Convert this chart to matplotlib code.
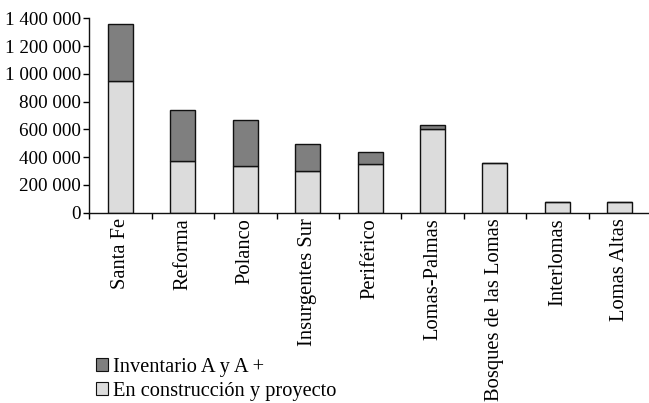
import matplotlib
matplotlib.use("Agg")
import matplotlib.pyplot as plt
from matplotlib.patches import Patch
from matplotlib.ticker import FixedLocator

categories = ["Santa Fe", "Reforma", "Polanco", "Insurgentes Sur", "Periférico",
              "Lomas-Palmas", "Bosques de las Lomas", "Interlomas", "Lomas Altas"]
construccion = [945000, 374000, 336000, 300000, 348000, 603000, 358000, 77000, 77000]
inventario = [413000, 363000, 332000, 193000, 87000, 31000, 0, 0, 0]
yticks = [0, 200000, 400000, 600000, 800000, 1000000, 1200000, 1400000]
ytick_labels = ["0", "200 000", "400 000", "600 000", "800 000",
                "1 000 000", "1 200 000", "1 400 000"]
legend_labels = ["Inventario A y A +", "En construcción y proyecto"]

plt.rcParams['font.family'] = ['Liberation Serif', 'DejaVu Serif']
FS_Y = 13.8
FS_X = 14.8
FS_L = 14.7

W, H = 649, 403
fig = plt.figure(figsize=(W / 100, H / 100), dpi=100)
left_px, right_px = 89.3, 89.3 + 9 * 62.4
bot_px, top_px = 212.7, 18.3
ax = fig.add_axes([left_px / W, (H - bot_px) / H,
                   (right_px - left_px) / W, (bot_px - top_px) / H])

light = "#dcdcdc"
dark = "#7f7f7f"
x = list(range(len(categories)))
ax.bar(x, construccion, width=0.4, color=light, edgecolor="#111111", linewidth=1.0, zorder=2)
ax.bar(x, inventario, width=0.4, bottom=construccion, color=dark,
       edgecolor="#111111", linewidth=1.0, zorder=2)

ax.set_xlim(-0.5, len(categories) - 0.5)
ax.set_ylim(0, 1400000)
ax.set_yticks(yticks)
ax.set_yticklabels(ytick_labels, fontsize=FS_Y)
ax.set_xticks(x)
ax.set_xticklabels(categories, rotation=90, fontsize=FS_X, va="top")
ax.tick_params(axis="x", which="major", length=0, pad=4)
ax.xaxis.set_minor_locator(FixedLocator([i - 0.5 for i in range(len(categories) + 1)]))
ax.tick_params(axis="x", which="minor", length=4, width=1, direction="out")
ax.tick_params(axis="y", length=4, width=1, direction="out", pad=2)

for s in ["top", "right"]:
    ax.spines[s].set_visible(False)
for s in ["left", "bottom"]:
    ax.spines[s].set_linewidth(1.0)
    ax.spines[s].set_color("#111111")

handles = [Patch(facecolor=dark, edgecolor="#111111", linewidth=0.8),
           Patch(facecolor=light, edgecolor="#111111", linewidth=0.8)]
fig.legend(handles, legend_labels, loc="upper left",
           bbox_to_anchor=(96 / W, (H - 358) / H), frameon=False, fontsize=FS_L,
           handlelength=0.6, handleheight=0.6, handletextpad=0.25,
           labelspacing=0.25, borderpad=0, borderaxespad=0)

fig.savefig("out.png", dpi=100)
